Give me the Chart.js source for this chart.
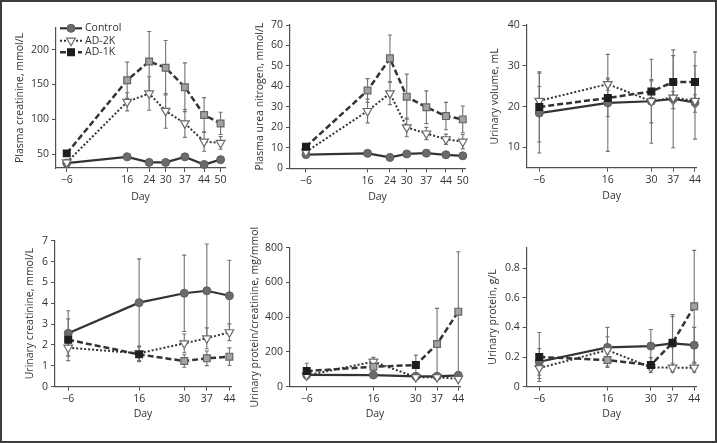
<!DOCTYPE html>
<html>
<head>
<meta charset="utf-8">
<script src="https://cdn.jsdelivr.net/npm/chart.js@4.4.0/dist/chart.umd.min.js"></script>
<style>
  html, body { margin: 0; padding: 0; background: #fff; }
  #fig { position: relative; width: 717px; height: 443px; overflow: hidden; background: #fff; }
  #fig canvas { position: absolute; left: 0; top: 0; }
  #frame { position: absolute; left: 0; top: 0; width: 717px; height: 443px; box-sizing: border-box;
           border: 2px solid #3d3d3d; pointer-events: none; }
</style>
</head>
<body>
<div id="fig">
  <canvas id="c1" width="717" height="443"></canvas>
  <canvas id="c2" width="717" height="443"></canvas>
  <canvas id="c3" width="717" height="443"></canvas>
  <canvas id="c4" width="717" height="443"></canvas>
  <canvas id="c5" width="717" height="443"></canvas>
  <canvas id="c6" width="717" height="443"></canvas>
  <div id="frame"></div>
</div>
<script>
// ---------- Data (mean and +/- error) ----------
const daysLong = [-6, 16, 24, 30, 37, 44, 50];
const daysShort = [-6, 16, 30, 37, 44];

// Plasma creatinine, mmol/L
const pcrControl = [37, 46, 38, 38, 46, 35, 42];
const pcrControlErr = [2, 2, 2, 2, 2, 2, 2];
const pcr2K = [38, 125, 137, 112, 94, 68, 66];
const pcr2KErr = [2, 13, 24, 25, 20, 14, 9];
const pcr1K = [51, 156, 183, 174, 146, 106, 94];
const pcr1KErr = [3, 26, 43, 39, 35, 25, 16];
const pcr1KSig = [0, 1, 1, 1, 1, 1, 1];
const pcrTicks = [50, 100, 150, 200];

// Plasma urea nitrogen, mmol/L
const bunControl = [6.7, 7.3, 5.3, 7.0, 7.4, 6.6, 6.1];
const bunControlErr = [0.6, 0.6, 0.6, 0.6, 0.6, 0.6, 0.6];
const bun2K = [8, 28, 36.6, 20, 17, 14.2, 13];
const bun2KErr = [1, 5.8, 5.5, 4.6, 3, 2.5, 3.5];
const bun1K = [10.5, 38, 53.7, 35, 29.8, 25.5, 23.9];
const bun1KErr = [1, 5.8, 11.4, 11, 8, 6.7, 6.5];
const bun1KSig = [0, 1, 1, 1, 1, 1, 1];
const bunTicks = [0, 10, 20, 30, 40, 50, 60, 70];

// Urinary volume, mL
const volControl = [18.4, 20.9, 21.3, 21.9, 21.0];
const volControlErr = [9.8, 11.9, 10.3, 12, 9];
const vol2K = [21.4, 25.5, 21.3, 22.2, 21.4];
const vol2KErr = [3.5, 1.5, 5.3, 1.5, 1.5];
const vol1K = [19.9, 22.1, 23.7, 26, 26];
const vol1KErr = [8.6, 4.6, 2.6, 6.5, 7.4];
const vol1KSig = [0, 0, 0, 0, 0];
const volTicks = [10, 20, 30, 40];

// Urinary creatinine, mmol/L
const ucrControl = [2.56, 4.03, 4.48, 4.6, 4.36];
const ucrControlErr = [1.08, 2.1, 1.83, 2.24, 1.7];
const ucr2K = [1.87, 1.6, 2.08, 2.32, 2.61];
const ucr2KErr = [0.4, 0.35, 0.45, 0.5, 0.4];
const ucr1K = [2.25, 1.55, 1.23, 1.36, 1.44];
const ucr1KErr = [1.0, 0.35, 0.3, 0.35, 0.42];
const ucr1KSig = [0, 0, 1, 1, 1];
const ucrTicks = [0, 1, 2, 3, 4, 5, 6, 7];

// Urinary protein/creatinine, mg/mmol
const upcControl = [68, 67, 60, 60, 65];
const upcControlErr = [15, 12, 8, 8, 10];
const upc2K = [65, 144, 55, 55, 45];
const upc2KErr = [15, 25, 10, 10, 8];
const upc1K = [90, 115, 125, 246, 432];
const upc1KErr = [45, 20, 57, 205, 345];
const upc1KSig = [0, 1, 0, 1, 1];
const upcTicks = [0, 200, 400, 600, 800];

// Urinary protein, g/L
const uprControl = [0.168, 0.265, 0.274, 0.292, 0.28];
const uprControlErr = [0.09, 0.135, 0.112, 0.18, 0.12];
const upr2K = [0.125, 0.247, 0.13, 0.128, 0.128];
const upr2KErr = [0.07, 0.09, 0.02, 0.03, 0.03];
const upr1K = [0.2, 0.18, 0.146, 0.296, 0.543];
const upr1KErr = [0.165, 0.04, 0.05, 0.19, 0.376];
const upr1KSig = [0, 1, 0, 0, 1];
const uprTicks = [0, 0.2, 0.4, 0.6, 0.8];

const groupNames = ['Control', 'AD-2K', 'AD-1K'];

// ---------- Styling ----------
const W = 717, H = 443;
const INK = '#333', AXIS = '#505050', BAR = '#727272';
const FONT = "'Open Sans', 'DejaVu Sans', sans-serif";
const FS = 10.5;
const TITLE_OFF = FS * 1.2 / 2;

Chart.defaults.font.family = FONT;
Chart.defaults.font.size = FS;
Chart.defaults.color = INK;

const styleControl = {
  borderColor: '#333', borderWidth: 2.2, pointStyle: 'circle', pointRadius: 4,
  pointBackgroundColor: '#6b6b6b', pointBorderColor: '#5c5c5c', pointBorderWidth: 1
};
const style2K = {
  borderColor: '#333', borderWidth: 2, borderDash: [2, 2], pointStyle: 'triangle', pointRotation: 180,
  pointRadius: 5, pointBackgroundColor: '#fff', pointBorderColor: '#6a6a6a', pointBorderWidth: 1.2
};
const style1K = { borderColor: '#333', borderWidth: 2.5, borderDash: [6, 3], pointStyle: 'rect', pointRadius: 4.8, pointBorderWidth: 1.2 };

const pts = (days, vals) => days.map((d, i) => ({ x: d, y: vals[i] }));
const minus = v => (v < 0 ? '\u2212' + Math.abs(v) : String(v));

// error bars drawn through the y scale, under the markers
const errorBars = {
  id: 'errorBars',
  beforeDatasetsDraw(chart) {
    const { ctx } = chart, y = chart.scales.y;
    ctx.save();
    ctx.strokeStyle = BAR;
    ctx.lineWidth = 1.1;
    chart.data.datasets.forEach((ds, i) => {
      if (!ds.errors) return;
      chart.getDatasetMeta(i).data.forEach((el, j) => {
        const v = ds.data[j].y, e = ds.errors[j];
        const y1 = y.getPixelForValue(v + e), y2 = y.getPixelForValue(v - e);
        ctx.beginPath();
        ctx.moveTo(el.x, y1); ctx.lineTo(el.x, y2);
        ctx.moveTo(el.x - 2, y1); ctx.lineTo(el.x + 2, y1);
        ctx.moveTo(el.x - 2, y2); ctx.lineTo(el.x + 2, y2);
        ctx.stroke();
      });
    });
    ctx.restore();
  }
};

// small legend inside the first panel
const legendBox = {
  id: 'legendBox',
  afterDraw(chart, args, o) {
    if (!o.rows) return;
    const ctx = chart.ctx;
    const samples = [styleControl, style2K, Object.assign({}, style1K, { pointBackgroundColor: '#1e1e1e', pointBorderColor: '#1e1e1e' })];
    samples.forEach((s, k) => {
      const y = o.rows[k];
      ctx.save();
      ctx.strokeStyle = s.borderColor;
      ctx.lineWidth = s.borderWidth;
      ctx.setLineDash(s.borderDash || []);
      ctx.beginPath(); ctx.moveTo(o.x0, y); ctx.lineTo(o.x1, y); ctx.stroke();
      ctx.setLineDash([]);
      ctx.fillStyle = s.pointBackgroundColor;
      ctx.strokeStyle = s.pointBorderColor;
      ctx.lineWidth = s.pointBorderWidth;
      Chart.helpers.drawPoint(ctx, { pointStyle: s.pointStyle, radius: s.pointRadius, rotation: s.pointRotation || 0, borderWidth: s.pointBorderWidth }, (o.x0 + o.x1) / 2, y);
      ctx.fillStyle = INK;
      ctx.font = FS + 'px ' + FONT;
      ctx.textBaseline = 'middle';
      ctx.fillText(groupNames[k], o.tx, y);
      ctx.restore();
    });
  }
};

// ---------- Panel layout (pixel boxes of each plot) ----------
const panels = [
  { id: 'c1', days: daysLong, ticks: pcrTicks, title: 'Plasma creatinine, mmol/L',
    c: [pcrControl, pcrControlErr], k2: [pcr2K, pcr2KErr], k1: [pcr1K, pcr1KErr, pcr1KSig],
    L: 56, R: 225, T: 28, B: 168, tx: 20, dy: 196.7, xMin: -9.9, xMax: 51.6, yMin: 30, yMax: 231, legend: true },
  { id: 'c2', days: daysLong, ticks: bunTicks, title: 'Plasma urea nitrogen, mmol/L',
    c: [bunControl, bunControlErr], k2: [bun2K, bun2KErr], k1: [bun1K, bun1KErr, bun1KSig],
    L: 290, R: 465, T: 25, B: 168.3, tx: 260.5, dy: 196.7, xMin: -11.7, xMax: 50.8, yMin: 0, yMax: 70 },
  { id: 'c3', days: daysShort, ticks: volTicks, title: 'Urinary volume, mL',
    c: [volControl, volControlErr], k2: [vol2K, vol2KErr], k1: [vol1K, vol1KErr, vol1KSig],
    L: 526.7, R: 696.7, T: 25, B: 167.7, tx: 495, dy: 196, xMin: -10.05, xMax: 44.55, yMin: 5, yMax: 40 },
  { id: 'c4', days: daysShort, ticks: ucrTicks, title: 'Urinary creatinine, mmol/L',
    c: [ucrControl, ucrControlErr], k2: [ucr2K, ucr2KErr], k1: [ucr1K, ucr1KErr, ucr1KSig],
    L: 55, R: 231, T: 240.7, B: 386.7, tx: 30, dy: 414.3, xMin: -10.1, xMax: 44.5, yMin: 0, yMax: 7 },
  { id: 'c5', days: daysShort, ticks: upcTicks, title: 'Urinary protein/creatinine, mg/mmol',
    c: [upcControl, upcControlErr], k2: [upc2K, upc2KErr], k1: [upc1K, upc1KErr, upc1KSig],
    L: 290, R: 460, T: 247.7, B: 386.7, tx: 255, dy: 414.3, xMin: -11.5, xMax: 44.56, yMin: 0, yMax: 800 },
  { id: 'c6', days: daysShort, ticks: uprTicks, title: 'Urinary protein, g/L',
    c: [uprControl, uprControlErr], k2: [upr2K, upr2KErr], k1: [upr1K, upr1KErr, upr1KSig],
    L: 526.7, R: 696.7, T: 247.3, B: 386.7, tx: 493.3, dy: 414.3, xMin: -10.06, xMax: 44.8, yMin: 0, yMax: 0.94 }
];

function makeChart(p) {
  const padLeft = p.tx - TITLE_OFF;
  const padBottom = H - (p.dy + TITLE_OFF);
  const axisBase = {
    type: 'linear',
    grid: { drawOnChartArea: false, drawTicks: true, tickLength: 4, color: AXIS, lineWidth: 1 },
    border: { display: true, color: AXIS, width: 1.2 },
    ticks: { color: INK, padding: 2, autoSkip: false, maxRotation: 0, callback: minus },
    title: { display: true, color: INK, padding: 0, font: { size: FS } }
  };
  const datasets = [
    Object.assign({ label: groupNames[2], data: pts(p.days, p.k1[0]), errors: p.k1[1],
      pointBackgroundColor: p.k1[2].map(s => (s ? '#a2a2a2' : '#1e1e1e')),
      pointBorderColor: p.k1[2].map(s => (s ? '#666' : '#1e1e1e')) }, style1K),
    Object.assign({ label: groupNames[1], data: pts(p.days, p.k2[0]), errors: p.k2[1] }, style2K),
    Object.assign({ label: groupNames[0], data: pts(p.days, p.c[0]), errors: p.c[1] }, styleControl)
  ];
  datasets.forEach(d => { d.clip = false; d.tension = 0; });

  return new Chart(document.getElementById(p.id), {
    type: 'line',
    data: { datasets },
    plugins: p.legend ? [errorBars, legendBox] : [errorBars],
    options: {
      responsive: false, animation: false, devicePixelRatio: 1,
      layout: { padding: { left: padLeft, top: p.T, right: W - p.R, bottom: padBottom } },
      plugins: {
        legend: { display: false }, tooltip: { enabled: false },
        legendBox: p.legend ? { rows: [28.3, 40.7, 52.3], x0: 60, x1: 82, tx: 85 } : {}
      },
      scales: {
        x: Object.assign({}, axisBase, {
          min: p.xMin, max: p.xMax,
          afterBuildTicks: s => { s.ticks = p.days.map(v => ({ value: v })); },
          afterFit: s => { s.height = p.dy + TITLE_OFF - p.B; },
          title: Object.assign({}, axisBase.title, { text: 'Day' })
        }),
        y: Object.assign({}, axisBase, {
          min: p.yMin, max: p.yMax,
          afterBuildTicks: s => { s.ticks = p.ticks.map(v => ({ value: v })); },
          afterFit: s => { s.width = p.L - padLeft; },
          ticks: Object.assign({}, axisBase.ticks, { padding: 3 }),
          title: Object.assign({}, axisBase.title, { text: p.title })
        })
      }
    }
  });
}

panels.forEach(makeChart);
</script>
</body>
</html>
